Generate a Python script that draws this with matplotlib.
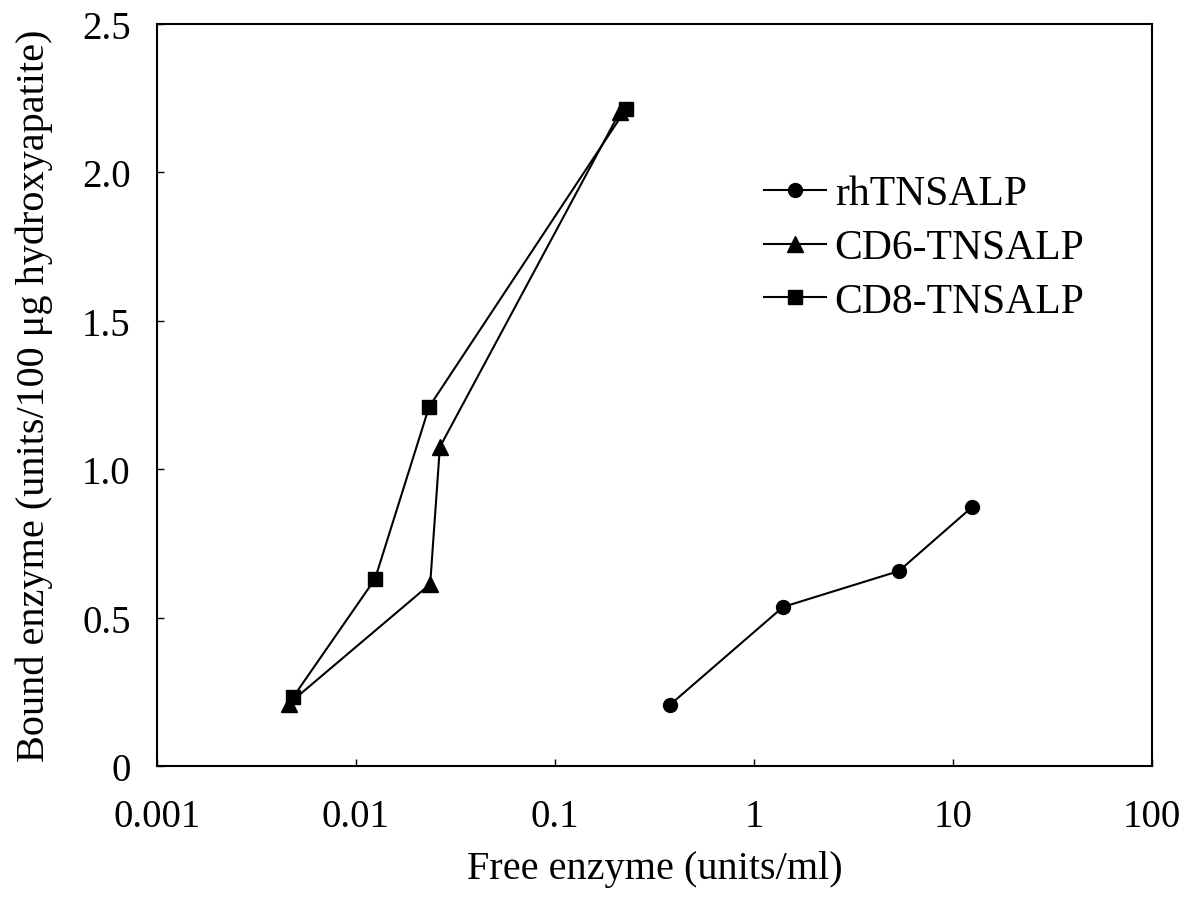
import matplotlib.pyplot as plt
from matplotlib.ticker import FixedLocator, FixedFormatter, NullLocator

plt.rcParams['font.family'] = ['Liberation Serif', 'DejaVu Serif']

rh_x = [0.378, 1.40, 5.35, 12.5]
rh_y = [0.206, 0.536, 0.657, 0.873]

cd6_x = [0.0046, 0.0236, 0.0264, 0.212]
cd6_y = [0.21, 0.613, 1.075, 2.204]

cd8_x = [0.00483, 0.01246, 0.0233, 0.227]
cd8_y = [0.232, 0.630, 1.21, 2.213]

x_ticks = [0.001, 0.01, 0.1, 1, 10, 100]
x_labels = ['0.001', '0.01', '0.1', '1', '10', '100']
y_ticks = [0, 0.5, 1.0, 1.5, 2.0, 2.5]
y_labels = ['0', '0.5', '1.0', '1.5', '2.0', '2.5']

fig = plt.figure(figsize=(11.92, 9.04), dpi=100)
ax = fig.add_axes([0.1317, 0.1515, 0.8347, 0.8208])

ax.plot(rh_x, rh_y, color='black', lw=1.5, marker='o', ms=10, label='rhTNSALP')
ax.plot(cd6_x, cd6_y, color='black', lw=1.5, marker='^', ms=11, label='CD6-TNSALP')
ax.plot(cd8_x, cd8_y, color='black', lw=1.5, marker='s', ms=9.5, label='CD8-TNSALP')

ax.set_xscale('log')
ax.set_xlim(0.001, 100)
ax.set_ylim(0, 2.5)
ax.xaxis.set_major_locator(FixedLocator(x_ticks))
ax.xaxis.set_major_formatter(FixedFormatter(x_labels))
ax.xaxis.set_minor_locator(NullLocator())
ax.yaxis.set_major_locator(FixedLocator(y_ticks))
ax.yaxis.set_major_formatter(FixedFormatter(y_labels))

ax.tick_params(axis='both', direction='in', length=5, width=1, labelsize=28)
ax.tick_params(axis='x', pad=23)
ax.tick_params(axis='y', pad=19)
for s in ax.spines.values():
    s.set_linewidth(1.5)

ax.set_xlabel('Free enzyme (units/ml)', fontsize=29, labelpad=11)
ax.set_ylabel('Bound enzyme (units/100 μg hydroxyapatite)', fontsize=29, labelpad=21)

ax.legend(loc='upper left', bbox_to_anchor=(0.61, 0.797), frameon=False, fontsize=30,
          handlelength=1.5, handletextpad=0.2, labelspacing=0.37, borderaxespad=0,
          borderpad=0)

fig.savefig('out.png', dpi=100)
